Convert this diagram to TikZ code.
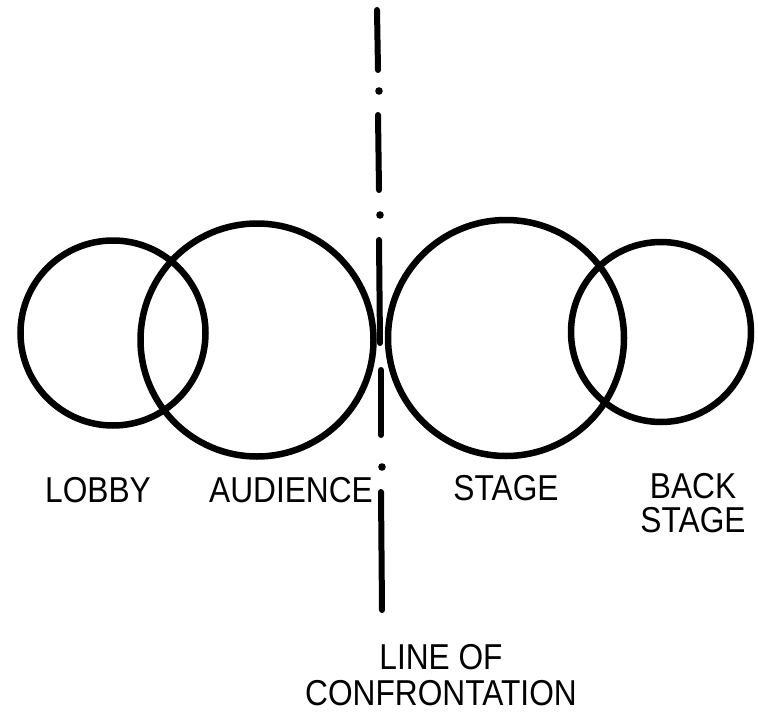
\documentclass[tikz,border=0pt]{standalone}
\usepackage{fontspec}
\setmainfont{Liberation Sans}
\newcommand{\hs}[1]{\scalebox{0.88}[1]{#1}}
\begin{document}
\begin{tikzpicture}[x=1pt,y=-1pt,
  room/.style={draw=black,line width=6.5pt},
  conf/.style={draw=black,line width=6pt,line cap=round},
  confdot/.style={fill=black},
  lbl/.style={font=\fontsize{36}{30}\selectfont,inner sep=0pt}]
\useasboundingbox (0,0) rectangle (758,725);
\node[room,circle,minimum size=185pt,inner sep=0pt] (lobby) at (113,333) {};
\node[room,circle,minimum size=233pt,inner sep=0pt] (audience) at (257,340) {};
\node[room,circle,minimum size=236pt,inner sep=0pt] (stage) at (506,338) {};
\node[room,circle,minimum size=180pt,inner sep=0pt] (backstage) at (661,332) {};
% line of confrontation
\coordinate (a1) at (377,10); \coordinate (a2) at (378,70);
\coordinate (b1) at (378,115); \coordinate (b2) at (379,190);
\coordinate (c1) at (379,240); \coordinate (c2) at (380,343);
\coordinate (d1) at (381,370); \coordinate (d2) at (381,435);
\coordinate (e1) at (381,492); \coordinate (e2) at (382,610);
\draw[conf] (a1) -- (a2);
\draw[conf] (b1) -- (b2);
\draw[conf] (c1) -- (c2);
\draw[conf] (d1) -- (d2);
\draw[conf] (e1) -- (e2);
\fill[confdot] (379,91) circle (3.8pt);
\fill[confdot] (380,215) circle (3.8pt);
\fill[confdot] (382,467) circle (3.8pt);
\node[lbl] (lobbyl) at (98,490) {\hs{LOBBY}};
\node[lbl] (audl) at (291,490) {\hs{AUDIENCE}};
\node[lbl] (stagel) at (506,488) {\hs{STAGE}};
\node[lbl,align=center] (backl) at (693,503) {\hs{BACK}\\[4pt]\hs{STAGE}};
\node[lbl,align=center] (confl) at (441,675) {\hs{LINE OF}\\[6pt]\hs{CONFRONTATION}};
\end{tikzpicture}
\end{document}
